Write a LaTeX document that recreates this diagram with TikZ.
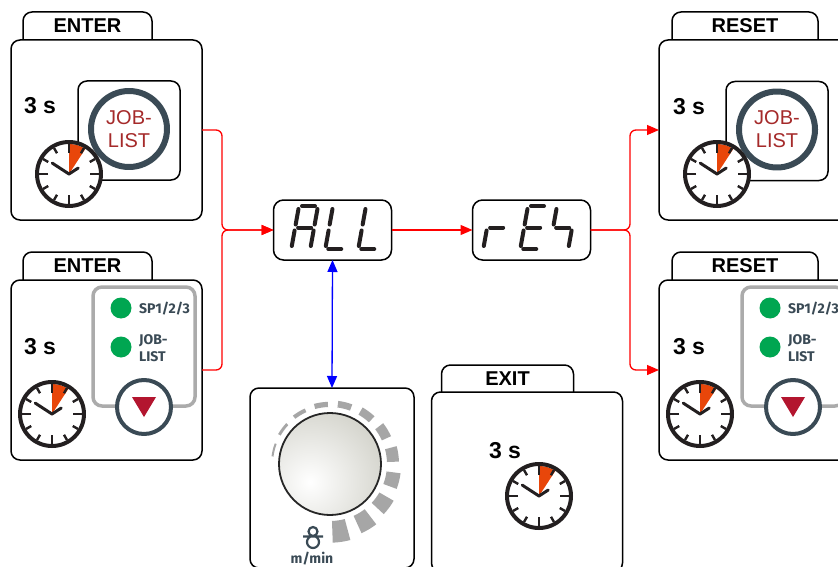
\documentclass[tikz,border=0pt]{standalone}
\usepackage{fontspec}
\setmainfont{Liberation Sans}
\newfontfamily\dinfont{Fira Sans}
\usepackage{xcolor}
\usepackage{tikz}
\usetikzlibrary{positioning}
\usetikzlibrary{arrows.meta}

\definecolor{slate}{HTML}{3A4A55}
\definecolor{jobred}{HTML}{A52A2A}
\definecolor{clockred}{HTML}{E8460A}
\definecolor{clockink}{HTML}{231F20}
\definecolor{keyred}{HTML}{B3152F}
\definecolor{ledgreen}{HTML}{00A651}
\definecolor{framegray}{HTML}{ABABAB}
\definecolor{scalegray}{HTML}{A6A6A6}
\definecolor{knobgray}{HTML}{D3D3CB}
\definecolor{segblack}{HTML}{231F20}

\begin{document}
\begin{tikzpicture}[
  x=1pt, y=-1pt,
  line join=round,
  font=\bfseries
]
\tikzset{
    panelbox/.style = {rectangle, draw=black, fill=white, line width=1.5pt, rounded corners=9pt, minimum width=191pt, minimum height=180pt, inner sep=0pt, outer sep=0pt},
    tabbox/.style = {rectangle, minimum height=28pt, inner sep=0pt, outer sep=0pt, font=\fontsize{20}{22}\selectfont\bfseries},
    tabline/.style = {draw=black, line width=1.5pt, rounded corners=9pt},
    dispbox/.style = {rectangle, draw=black, line width=1.5pt, rounded corners=10pt, minimum width=118pt, minimum height=60pt, outer sep=0pt},
    secs/.style = {inner sep=0pt, font=\fontsize{23}{24}\selectfont\bfseries},
    keybox/.style = {rectangle, draw=black, fill=white, line width=1.5pt, rounded corners=9pt, minimum width=102pt, minimum height=99pt},
    jobring/.style = {circle, draw=slate, fill=white, line width=6pt, minimum size=76pt, inner sep=0pt, align=center, text=jobred, font=\fontsize{20}{23}\selectfont\mdseries},
    ledframe/.style = {rectangle, draw=framegray, fill=white, line width=3.5pt, rounded corners=9pt, minimum width=102pt, minimum height=119pt},
    led/.style = {circle, fill=ledgreen, minimum size=21pt, inner sep=0pt},
    ledtext/.style = {anchor=west, inner sep=0pt, align=left, text=slate, font=\dinfont\bfseries\fontsize{14}{17}\selectfont},
    downkey/.style = {circle, draw=slate, fill=white, line width=4pt, minimum size=54pt, inner sep=0pt},
    knob/.style = {circle, draw=black!85, line width=1.8pt, minimum size=102pt, inner sep=0pt,
        path picture={\shade[inner color=white, outer color=knobgray] ([xshift=-20pt,yshift=-18pt]path picture bounding box.center) circle (80pt);}},
    seg/.style = {draw=segblack, line width=4pt, line cap=round},
    flow/.style = {draw=red, line width=1.3pt, rounded corners=6pt, -{Triangle[length=12pt,width=10pt]}},
    adjust/.style = {draw=blue, line width=1.3pt, {Triangle[length=12pt,width=10pt]}-{Triangle[length=12pt,width=10pt]}},
    seg a/.code = {\draw[seg] (3,0) -- (16,0);},
    seg b/.code = {\draw[seg] (19,3) -- (19,18.5);},
    seg c/.code = {\draw[seg] (19,24.5) -- (19,40);},
    seg d/.code = {\draw[seg] (3,43) -- (16,43);},
    seg e/.code = {\draw[seg] (0,24.5) -- (0,40);},
    seg f/.code = {\draw[seg] (0,3) -- (0,18.5);},
    seg g/.code = {\draw[seg] (3,21.5) -- (16,21.5);},
    pics/segdigit/.style = {code={
        \begin{scope}[xslant=0.18]
        \foreach \s in {#1} {\tikzset{seg \s}}
        \end{scope}
    }},
    pics/clockface/.style = {code={
        \fill[white] (0,0) circle (32pt);
        \fill[clockred] (0,0) -- (90:30pt) arc[start angle=90, end angle=57, radius=30pt] -- cycle;
        \foreach \a in {0,90,180,270} {\draw[clockink, line width=2.4pt] (\a:21pt) -- (\a:30pt);}
        \foreach \a in {30,60,120,150,210,240,300,330} {\draw[clockink, line width=2.4pt] (\a:24pt) -- (\a:30pt);}
        \draw[clockink, line width=4pt] (0,0) circle (32pt);
        \draw[clockink, line width=3pt, line cap=round] (147:20pt) -- (0,0) -- (33:11pt);
    }},
    pics/jobkey/.style = {code={
        \node[keybox] (-box) at (0,0) {};
        \node[jobring] (-ring) at (0,-1.5) {JOB-\\LIST};
    }},
    pics/ledpanel/.style = {code={
        \node[ledframe] (-frame) at (0,0) {};
        \node[led] (-spled) at (-23,-38.5) {};
        \node[led] (-jobled) at (-23,0.5) {};
        \node[ledtext] (-sptext) at (-5,-37.5) {SP1/2/3};
        \node[ledtext] (-jobtext) at (-5,2) {JOB-\\LIST};
        \node[downkey] (-down) at (0,60.5) {};
        \fill[keyred] (-12,50.5) -- (12,50.5) -- (0,70.5) -- cycle;
    }},
}
\useasboundingbox (0,0) rectangle (838,567);
\fill[white] (0,0) rectangle (838,567);

\node[panelbox] (enter1) at (106.5,130) {};
\node[tabbox, minimum width=129pt, above right=0pt and 12pt of enter1.north west] (enter1tab) {ENTER};
\draw[tabline] (enter1tab.south west) -- (enter1tab.north west) -- (enter1tab.north east) -- (enter1tab.south east);
\node[secs] (enter1secs) at (40,106) {3 s};
\pic (enter1key) at (129,130.5) {jobkey};
\pic (enter1clock) at (69,174) {clockface};

\node[panelbox] (enter2) at (106.5,370) {};
\node[tabbox, minimum width=129pt, above right=0pt and 12pt of enter2.north west] (enter2tab) {ENTER};
\draw[tabline] (enter2tab.south west) -- (enter2tab.north west) -- (enter2tab.north east) -- (enter2tab.south east);
\node[secs] (enter2secs) at (40,347) {3 s};
\pic (enter2leds) at (144,346.5) {ledpanel};
\pic (enter2clock) at (52,414) {clockface};

\node[dispbox] (showall) at (332.5,230) {};
\pic at (299,206) {segdigit={a,b,c,e,f,g}};
\pic at (333,206) {segdigit={d,e,f}};
\pic at (366,206) {segdigit={d,e,f}};

\node[dispbox] (showret) at (531.5,230) {};
\pic at (491,206) {segdigit={e,g}};
\pic at (528,206) {segdigit={a,d,e,f,g}};
\pic at (557,206) {segdigit={c,f,g}};

\node[panelbox, minimum width=164pt] (knobpanel) at (332,478) {};
\begin{scope}[shift={(330,464)}]
\foreach \i in {0,...,11} {
    \pgfmathsetmacro{\mb}{166-22.5*\i+6.5}
    \pgfmathsetmacro{\mc}{166-22.5*\i-6.5}
    \pgfmathsetmacro{\mr}{59+0.8*\i+0.09*\i*\i}
    \fill[scalegray] (\mb:57pt) arc[start angle=\mb, end angle=\mc, radius=57pt] -- (\mc:\mr pt) arc[start angle=\mc, end angle=\mb, radius=\mr pt] -- cycle;
}
\end{scope}
\node[knob] (knobdial) at (330,464) {};
\draw[slate, line width=2.2pt] (313,531.5) circle (4.5pt) (313,542) circle (6pt) (303,536.5) -- (323,536.5);
\node[inner sep=0pt, text=slate, font=\dinfont\bfseries\fontsize{14}{16}\selectfont] (feedunit) at (312,559) {m/min};

\node[panelbox] (exitpanel) at (527,482) {};
\node[tabbox, minimum width=132pt, minimum height=27pt, above right=0pt and 10pt of exitpanel.north west] (exittab) {EXIT};
\draw[tabline] (exittab.south west) -- (exittab.north west) -- (exittab.north east) -- (exittab.south east);
\node[secs] (exitsecs) at (505,451) {3 s};
\pic (exitclock) at (539,496) {clockface};

\node[panelbox] (reset1) at (754.5,130) {};
\node[tabbox, minimum width=146pt, above right=0pt and 13pt of reset1.north west] (reset1tab) {RESET};
\draw[tabline] (reset1tab.south west) -- (reset1tab.north west) -- (reset1tab.north east) -- (reset1tab.south east);
\node[secs] (reset1secs) at (689,107) {3 s};
\pic (reset1key) at (777,131) {jobkey};
\pic (reset1clock) at (717,174) {clockface};

\node[panelbox] (reset2) at (754.5,370) {};
\node[tabbox, minimum width=146pt, above right=0pt and 13pt of reset2.north west] (reset2tab) {RESET};
\draw[tabline] (reset2tab.south west) -- (reset2tab.north west) -- (reset2tab.north east) -- (reset2tab.south east);
\node[secs] (reset2secs) at (689,347) {3 s};
\pic (reset2leds) at (793,346.5) {ledpanel};
\pic (reset2clock) at (700,414) {clockface};

\coordinate (joinin) at (222,230);
\coordinate (joinout) at (630,230);
\draw[flow] (enter1.east) -| (joinin) -- (showall.west);
\draw[flow] (enter2.east) -| (joinin) -- (showall.west);
\draw[flow] (showall.east) -- (showret.west);
\draw[flow] (showret.east) -- (joinout) |- (reset1.west);
\draw[flow] (showret.east) -- (joinout) |- (reset2.west);
\draw[adjust] (showall.south) -- (knobpanel.north);
\end{tikzpicture}
\end{document}
